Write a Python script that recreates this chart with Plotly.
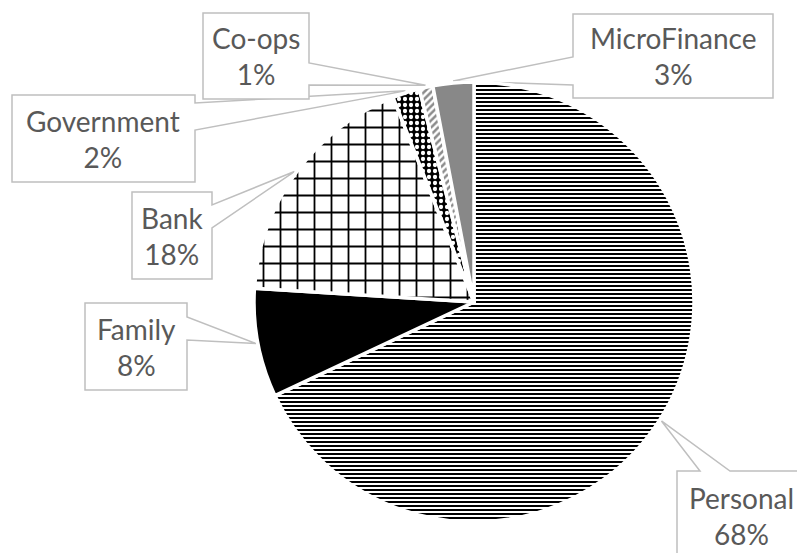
import math
import plotly.graph_objects as go

# Funding sources and their shares (%)
labels = ["Personal", "Family", "Bank", "Government", "Co-ops", "MicroFinance"]
values = [68, 8, 18, 2, 1, 3]

# Fill styles for each slice
colors = ["#ffffff", "#000000", "#ffffff", "#000000", "#ffffff", "#888888"]
shapes_fill = ["-", "", "+", ".", "/", ""]
fg = ["#000000", "#000000", "#000000", "#ffffff", "#8c8c8c", "#888888"]
bg = ["#ffffff", "#000000", "#ffffff", "#000000", "#ffffff", "#888888"]
psize = [4, 8, 17, 6, 5, 8]
psolid = [0.5, 0.3, 0.2, 0.4, 0.5, 0.3]

W, H = 797, 553
PIE_X0, PIE_X1 = 254, 694
PIE_Y0, PIE_Y1 = 82, 522
CX, CY = (PIE_X0 + PIE_X1) / 2, (PIE_Y0 + PIE_Y1) / 2
R = (PIE_X1 - PIE_X0) / 2

# Callout boxes in pixels: (x0, y0, x1, y1, side, base_a, base_b)
callouts = {
    "Personal": (677, 471, 806, 560, "top", 700, 730),
    "Family": (85, 303, 187, 390, "right", 317, 340),
    "Bank": (132, 192, 212, 279, "right", 205, 228),
    "Government": (12, 95, 195, 182, "right", 103, 130),
    "Co-ops": (203, 13, 309, 99, "right", 63, 85),
    "MicroFinance": (573, 14, 773, 98, "left", 57, 85),
}


def px(x):
    return x / W


def py(y):
    return 1 - y / H


fig = go.Figure(
    go.Pie(
        labels=labels,
        values=values,
        sort=False,
        direction="clockwise",
        rotation=0,
        textinfo="none",
        hoverinfo="label+percent",
        showlegend=False,
        domain=dict(x=[px(PIE_X0), px(PIE_X1)], y=[py(PIE_Y1), py(PIE_Y0)]),
        marker=dict(
            colors=colors,
            line=dict(color="#ffffff", width=3.5),
            pattern=dict(
                shape=shapes_fill,
                fgcolor=fg,
                bgcolor=bg,
                size=psize,
                solidity=psolid,
                fillmode="replace",
            ),
        ),
    )
)

total = sum(values)
cum = 0
shape_list = []
annotations = []
for lab, val in zip(labels, values):
    mid = (cum + val / 2) / total * 2 * math.pi
    cum += val
    tx = CX + (R + 2) * math.sin(mid)
    ty = CY - (R + 2) * math.cos(mid)
    x0, y0, x1, y1, side, a, b = callouts[lab]
    if side == "right":
        pts = [(x0, y0), (x1, y0), (x1, a), (tx, ty), (x1, b), (x1, y1), (x0, y1)]
    elif side == "left":
        pts = [(x0, y0), (x1, y0), (x1, y1), (x0, y1), (x0, b), (tx, ty), (x0, a)]
    else:  # top
        pts = [(x0, y0), (a, y0), (tx, ty), (b, y0), (x1, y0), (x1, y1), (x0, y1)]
    path = "M " + " L ".join(f"{px(x):.5f},{py(y):.5f}" for x, y in pts) + " Z"
    shape_list.append(
        dict(
            type="path",
            xref="paper",
            yref="paper",
            path=path,
            fillcolor="#ffffff",
            line=dict(color="#bfbfbf", width=1.5),
            layer="below",
        )
    )
    annotations.append(
        dict(
            x=px((x0 + x1) / 2),
            y=py((y0 + y1) / 2),
            xref="paper",
            yref="paper",
            xanchor="center",
            yanchor="middle",
            showarrow=False,
            text=f"{lab}<br>{val}%",
            font=dict(family="Lato", size=28, color="#595959"),
            align="center",
        )
    )

fig.update_layout(
    width=W,
    height=H,
    margin=dict(l=0, r=0, t=0, b=0),
    paper_bgcolor="#ffffff",
    plot_bgcolor="#ffffff",
    shapes=shape_list,
    annotations=annotations,
)

fig.write_html("out.html")
